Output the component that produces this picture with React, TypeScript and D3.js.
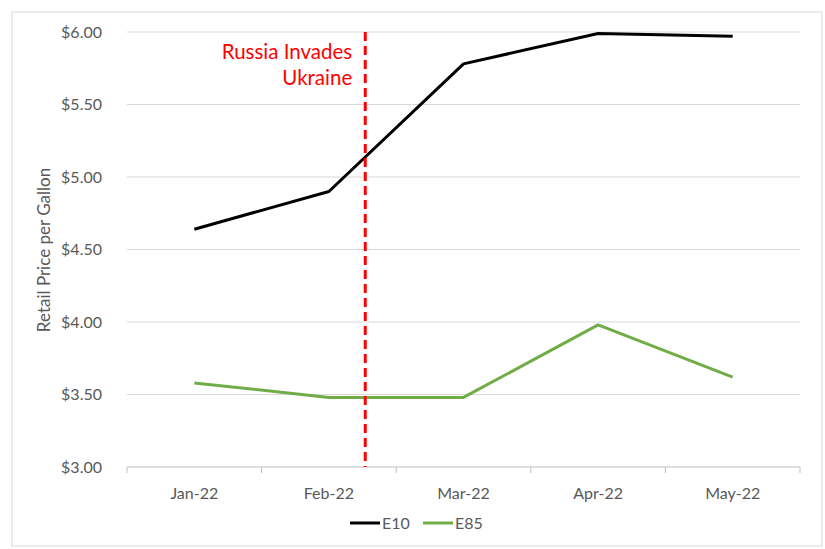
import * as d3 from "d3";

const months = ["Jan-22", "Feb-22", "Mar-22", "Apr-22", "May-22"];
const e10 = [4.64, 4.9, 5.78, 5.99, 5.97];
const e85 = [3.58, 3.48, 3.48, 3.98, 3.62];
const yTicks = [3.0, 3.5, 4.0, 4.5, 5.0, 5.5, 6.0];
const invasionIndex = 1.27; // position between Feb and Mar

const W = 825;
const H = 549;
const margin = { top: 32, right: 25, bottom: 82, left: 127 };
const font = "Lato, 'Open Sans', sans-serif";

const App = () => {
  const innerW = W - margin.left - margin.right;
  const innerH = H - margin.top - margin.bottom;

  const x = d3.scaleBand().domain(months).range([0, innerW]);
  const xIdx = d3
    .scaleLinear()
    .domain([0, months.length - 1])
    .range([x(months[0])! + x.bandwidth() / 2, x(months[months.length - 1])! + x.bandwidth() / 2]);
  const y = d3.scaleLinear().domain([3, 6]).range([innerH, 0]);

  const line = d3
    .line<number>()
    .x((_, i) => xIdx(i))
    .y((d) => y(d));

  const fmt = (v: number) => "$" + v.toFixed(2);
  const boundaries = d3.range(months.length + 1).map((i) => i * x.bandwidth());
  const vx = xIdx(invasionIndex);

  return (
    <svg width={W} height={H} style={{ position: "absolute", left: 0, top: 0, background: "#fff" }}>
      <rect x={12} y={12} width={810} height={534} fill="#fff" stroke="#d9d9d9" strokeWidth={1} />
      <g transform={`translate(${margin.left},${margin.top})`}>
        {yTicks.map((t) => (
          <g key={t}>
            {t > 3 && <line x1={0} x2={innerW} y1={y(t)} y2={y(t)} stroke="#d9d9d9" strokeWidth={1} />}
            <text x={-25} y={y(t)} dy="0.35em" textAnchor="end" fontFamily={font} fontSize={16} fill="#595959">
              {fmt(t)}
            </text>
          </g>
        ))}
        <line x1={0} x2={innerW} y1={innerH} y2={innerH} stroke="#bfbfbf" strokeWidth={1} />
        {boundaries.map((b, i) => (
          <line key={i} x1={b} x2={b} y1={innerH} y2={innerH + 6} stroke="#bfbfbf" strokeWidth={1} />
        ))}
        {months.map((m) => (
          <text
            key={m}
            x={x(m)! + x.bandwidth() / 2}
            y={innerH + 32}
            textAnchor="middle"
            fontFamily={font}
            fontSize={16}
            fill="#595959"
          >
            {m}
          </text>
        ))}
        <path d={line(e85)!} fill="none" stroke="#70ad47" strokeWidth={3} strokeLinejoin="round" />
        <path d={line(e10)!} fill="none" stroke="#000" strokeWidth={3} strokeLinejoin="round" />
        <line x1={vx} x2={vx} y1={y(6)} y2={innerH} stroke="#ff0000" strokeWidth={3} strokeDasharray="9,5" />
        <text x={vx - 13} y={27} textAnchor="end" fontFamily={font} fontSize={20.5} fill="#ff0000">
          <tspan x={vx - 13} dy={0}>Russia Invades</tspan>
          <tspan x={vx - 13} dy={26}>Ukraine</tspan>
        </text>
      </g>
      <text
        transform={`translate(50,250) rotate(-90)`}
        textAnchor="middle"
        fontFamily={font}
        fontSize={17}
        fill="#595959"
      >
        Retail Price per Gallon
      </text>
      <g transform="translate(350,523)">
        <line x1={0} x2={30} y1={0} y2={0} stroke="#000" strokeWidth={3} />
        <text x={32} y={0} dy="0.35em" fontFamily={font} fontSize={16} fill="#595959">E10</text>
        <line x1={73} x2={103} y1={0} y2={0} stroke="#70ad47" strokeWidth={3} />
        <text x={105} y={0} dy="0.35em" fontFamily={font} fontSize={16} fill="#595959">E85</text>
      </g>
    </svg>
  );
};

export default App;
